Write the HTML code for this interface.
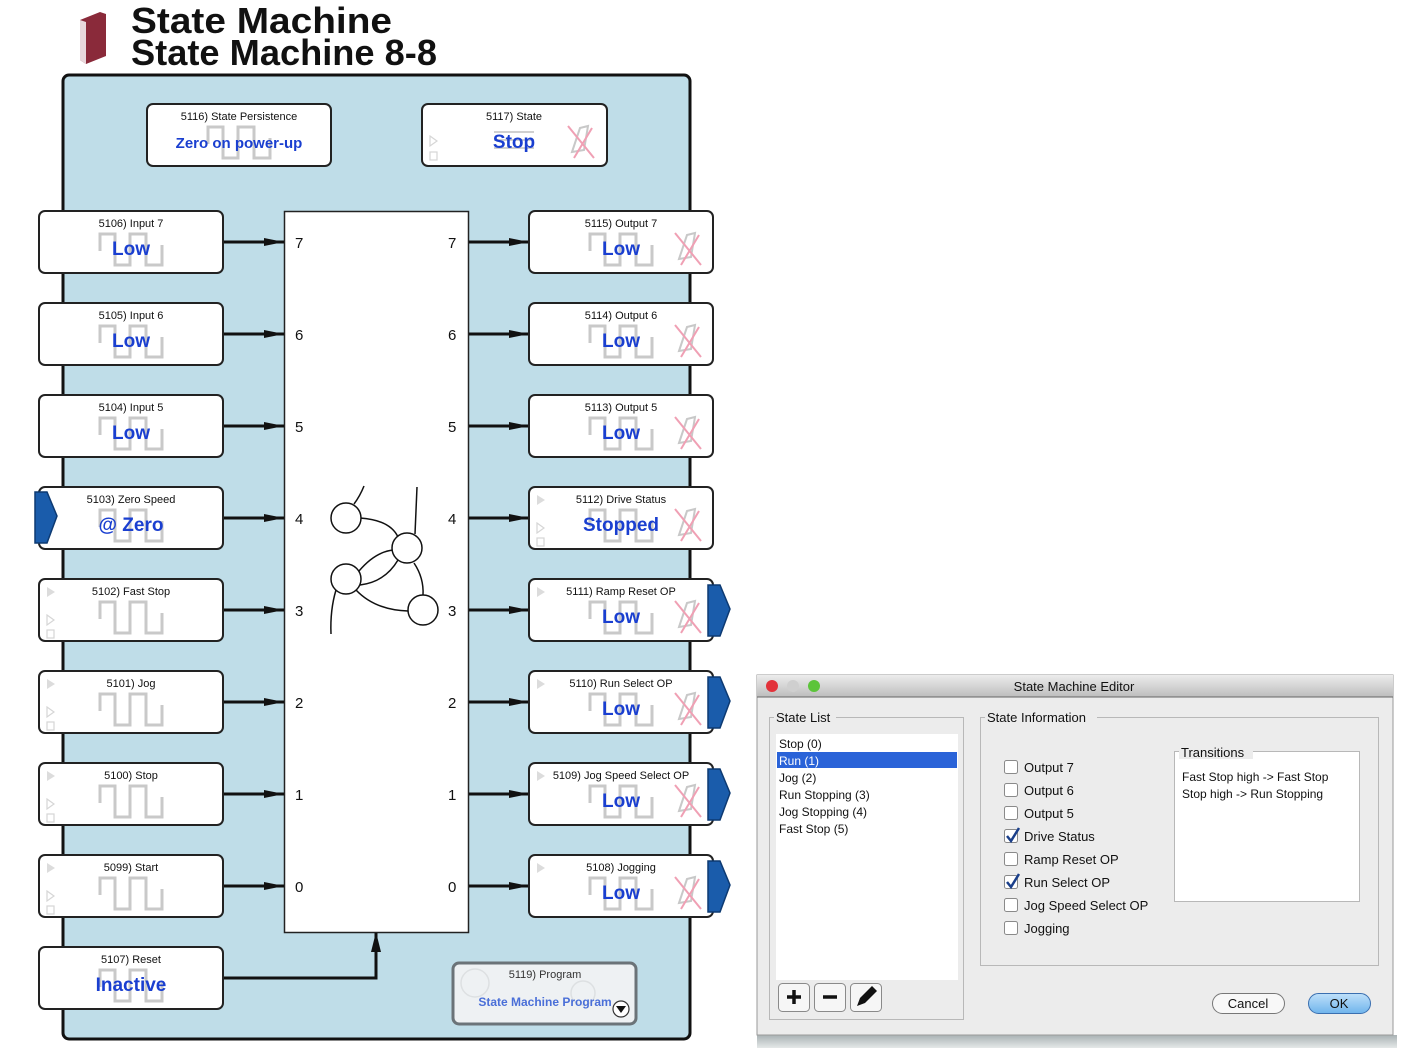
<!DOCTYPE html>
<html><head><meta charset="utf-8"><style>
html,body{margin:0;padding:0;background:#fff;}
svg{display:block;font-family:"Liberation Sans",sans-serif;}
</style></head><body>
<svg width="1413" height="1048" viewBox="0 0 1413 1048" xmlns="http://www.w3.org/2000/svg">
<defs>
<symbol id="wave" overflow="visible"><path d="M61,40 V23 H76 V54 H91 V23 H107 V54 H123 V34" fill="none" stroke="#c9c9c9" stroke-width="3"/></symbol>
<symbol id="xi" overflow="visible"><path d="M150,48 L158,24 L166,22 L162,46 Z" fill="none" stroke="#c8c8c8" stroke-width="2"/><path d="M146,22 L172,54 M170,24 L152,54" stroke="#f0a0b4" stroke-width="2"/></symbol>
<symbol id="tri" overflow="visible"><path d="M8,8 L16,13 L8,18 Z" fill="#dcdcdc"/><path d="M8,36 L15,41 L8,46 Z" fill="none" stroke="#d6d6d6" stroke-width="1.2"/><rect x="8" y="51" width="7" height="8" fill="none" stroke="#d6d6d6" stroke-width="1.2"/></symbol>
<symbol id="tab" overflow="visible"><path d="M0,0 H12 L22,24 L12,51 H0 Z" fill="#1a5cab" stroke="#0d3a72" stroke-width="1.5"/></symbol>
<marker id="ar" viewBox="0 0 20 10" refX="20" refY="5" markerWidth="20" markerHeight="10" markerUnits="userSpaceOnUse" orient="auto"><path d="M0,1 L20,5 L0,9 Z" fill="#111"/></marker>
</defs>

<!-- header -->
<g>
<path d="M80,20 L100,12 L106,14 L106,56 L86,64 L80,60 Z" fill="#8a2a3a"/>
<path d="M80,20 L86,22 L86,64 L80,60 Z" fill="#e8d8dc"/>
<text x="131" y="33" font-size="36" font-weight="bold" fill="#111" textLength="261" lengthAdjust="spacingAndGlyphs">State Machine</text>
<text x="131" y="65" font-size="36" font-weight="bold" fill="#111" textLength="306" lengthAdjust="spacingAndGlyphs">State Machine 8-8</text>
</g>

<!-- main panel -->
<rect x="63" y="75" width="627" height="964" rx="6" fill="#bfdde8" stroke="#111" stroke-width="3"/>

<!-- center block -->
<rect x="284.5" y="211.5" width="184" height="721" fill="#fff" stroke="#222" stroke-width="1.5"/>
<g font-size="15" fill="#111">
<text x="295" y="248">7</text><text x="448" y="248">7</text>
<text x="295" y="340">6</text><text x="448" y="340">6</text>
<text x="295" y="432">5</text><text x="448" y="432">5</text>
<text x="295" y="524">4</text><text x="448" y="524">4</text>
<text x="295" y="616">3</text><text x="448" y="616">3</text>
<text x="295" y="708">2</text><text x="448" y="708">2</text>
<text x="295" y="800">1</text><text x="448" y="800">1</text>
<text x="295" y="892">0</text><text x="448" y="892">0</text>
</g>
<!-- graph -->
<g fill="none" stroke="#111" stroke-width="1.5">
<path d="M354,504 Q360,496 364,486"/>
<path d="M415,534 L417,487"/>
<path d="M360,518 Q390,520 398,537"/>
<path d="M359,571 Q375,552 393,550"/>
<path d="M360,585 Q385,582 398,560"/>
<path d="M414,563 Q424,578 423,595"/>
<path d="M356,590 Q375,610 408,611"/>
<path d="M336,590 Q330,610 331,634"/>
<circle cx="346" cy="518" r="15" fill="#fff"/>
<circle cx="407" cy="548" r="15" fill="#fff"/>
<circle cx="346" cy="579" r="15" fill="#fff"/>
<circle cx="423" cy="610" r="15" fill="#fff"/>
</g>

<!-- arrows -->
<g stroke="#111" stroke-width="3" marker-end="url(#ar)">
<line x1="223" y1="242" x2="284" y2="242"/><line x1="469" y1="242" x2="529" y2="242"/>
<line x1="223" y1="334" x2="284" y2="334"/><line x1="469" y1="334" x2="529" y2="334"/>
<line x1="223" y1="426" x2="284" y2="426"/><line x1="469" y1="426" x2="529" y2="426"/>
<line x1="223" y1="518" x2="284" y2="518"/><line x1="469" y1="518" x2="529" y2="518"/>
<line x1="223" y1="610" x2="284" y2="610"/><line x1="469" y1="610" x2="529" y2="610"/>
<line x1="223" y1="702" x2="284" y2="702"/><line x1="469" y1="702" x2="529" y2="702"/>
<line x1="223" y1="794" x2="284" y2="794"/><line x1="469" y1="794" x2="529" y2="794"/>
<line x1="223" y1="886" x2="284" y2="886"/><line x1="469" y1="886" x2="529" y2="886"/>
</g>
<path d="M223,978 H376 V933" fill="none" stroke="#111" stroke-width="3"/>
<path d="M371,952 L376,932 L381,952 Z" fill="#111"/>

<!-- top blocks -->
<g transform="translate(147,104)">
<rect width="184" height="62" rx="6" fill="#fff" stroke="#222" stroke-width="2"/>
<text x="92" y="16" font-size="11" text-anchor="middle" fill="#111">5116) State Persistence</text>
<use href="#wave"/>
<text x="92" y="44" font-size="15" font-weight="bold" text-anchor="middle" fill="#1a3fd0">Zero on power-up</text>
</g>
<g transform="translate(422,104)">
<rect width="185" height="62" rx="6" fill="#fff" stroke="#222" stroke-width="2"/>
<path d="M8,32 L15,37 L8,42 Z" fill="none" stroke="#d6d6d6" stroke-width="1.2"/>
<rect x="8" y="48" width="7" height="8" fill="none" stroke="#d6d6d6" stroke-width="1.2"/>
<text x="92" y="16" font-size="11" text-anchor="middle" fill="#111">5117) State</text>
<path d="M72,28 H112 M72,36 H112 M72,44 H112" stroke="#d0d0d0" stroke-width="2"/>
<text x="92" y="44" font-size="19" font-weight="bold" text-anchor="middle" fill="#1a3fd0">Stop</text>
<use href="#xi"/>
</g>

<!-- input blocks -->
<g font-size="11" fill="#111">
<g transform="translate(39,211)"><rect width="184" height="62" rx="6" fill="#fff" stroke="#222" stroke-width="2"/><text x="92" y="16" text-anchor="middle">5106) Input 7</text><use href="#wave"/><text x="92" y="44" font-size="19" font-weight="bold" text-anchor="middle" fill="#1a3fd0">Low</text></g>
<g transform="translate(39,303)"><rect width="184" height="62" rx="6" fill="#fff" stroke="#222" stroke-width="2"/><text x="92" y="16" text-anchor="middle">5105) Input 6</text><use href="#wave"/><text x="92" y="44" font-size="19" font-weight="bold" text-anchor="middle" fill="#1a3fd0">Low</text></g>
<g transform="translate(39,395)"><rect width="184" height="62" rx="6" fill="#fff" stroke="#222" stroke-width="2"/><text x="92" y="16" text-anchor="middle">5104) Input 5</text><use href="#wave"/><text x="92" y="44" font-size="19" font-weight="bold" text-anchor="middle" fill="#1a3fd0">Low</text></g>
<g transform="translate(39,487)"><rect width="184" height="62" rx="6" fill="#fff" stroke="#222" stroke-width="2"/><text x="92" y="16" text-anchor="middle">5103) Zero Speed</text><use href="#wave"/><text x="92" y="44" font-size="19" font-weight="bold" text-anchor="middle" fill="#1a3fd0">@ Zero</text></g>
<g transform="translate(39,579)"><rect width="184" height="62" rx="6" fill="#fff" stroke="#222" stroke-width="2"/><use href="#tri"/><text x="92" y="16" text-anchor="middle">5102) Fast Stop</text><use href="#wave"/></g>
<g transform="translate(39,671)"><rect width="184" height="62" rx="6" fill="#fff" stroke="#222" stroke-width="2"/><use href="#tri"/><text x="92" y="16" text-anchor="middle">5101) Jog</text><use href="#wave"/></g>
<g transform="translate(39,763)"><rect width="184" height="62" rx="6" fill="#fff" stroke="#222" stroke-width="2"/><use href="#tri"/><text x="92" y="16" text-anchor="middle">5100) Stop</text><use href="#wave"/></g>
<g transform="translate(39,855)"><rect width="184" height="62" rx="6" fill="#fff" stroke="#222" stroke-width="2"/><use href="#tri"/><text x="92" y="16" text-anchor="middle">5099) Start</text><use href="#wave"/></g>
<g transform="translate(39,947)"><rect width="184" height="62" rx="6" fill="#fff" stroke="#222" stroke-width="2"/><text x="92" y="16" text-anchor="middle">5107) Reset</text><use href="#wave"/><text x="92" y="44" font-size="19" font-weight="bold" text-anchor="middle" fill="#1a3fd0">Inactive</text></g>
</g>
<use href="#tab" x="35" y="492"/>

<!-- output blocks -->
<g font-size="11" fill="#111">
<g transform="translate(529,211)"><rect width="184" height="62" rx="6" fill="#fff" stroke="#222" stroke-width="2"/><text x="92" y="16" text-anchor="middle">5115) Output 7</text><use href="#wave"/><text x="92" y="44" font-size="19" font-weight="bold" text-anchor="middle" fill="#1a3fd0">Low</text><use href="#xi"/></g>
<g transform="translate(529,303)"><rect width="184" height="62" rx="6" fill="#fff" stroke="#222" stroke-width="2"/><text x="92" y="16" text-anchor="middle">5114) Output 6</text><use href="#wave"/><text x="92" y="44" font-size="19" font-weight="bold" text-anchor="middle" fill="#1a3fd0">Low</text><use href="#xi"/></g>
<g transform="translate(529,395)"><rect width="184" height="62" rx="6" fill="#fff" stroke="#222" stroke-width="2"/><text x="92" y="16" text-anchor="middle">5113) Output 5</text><use href="#wave"/><text x="92" y="44" font-size="19" font-weight="bold" text-anchor="middle" fill="#1a3fd0">Low</text><use href="#xi"/></g>
<g transform="translate(529,487)"><rect width="184" height="62" rx="6" fill="#fff" stroke="#222" stroke-width="2"/><use href="#tri"/><text x="92" y="16" text-anchor="middle">5112) Drive Status</text><use href="#wave"/><text x="92" y="44" font-size="19" font-weight="bold" text-anchor="middle" fill="#1a3fd0">Stopped</text><use href="#xi"/></g>
<g transform="translate(529,579)"><rect width="184" height="62" rx="6" fill="#fff" stroke="#222" stroke-width="2"/><path d="M8,8 L16,13 L8,18 Z" fill="#dcdcdc"/><text x="92" y="16" text-anchor="middle">5111) Ramp Reset OP</text><use href="#wave"/><text x="92" y="44" font-size="19" font-weight="bold" text-anchor="middle" fill="#1a3fd0">Low</text><use href="#xi"/></g>
<g transform="translate(529,671)"><rect width="184" height="62" rx="6" fill="#fff" stroke="#222" stroke-width="2"/><path d="M8,8 L16,13 L8,18 Z" fill="#dcdcdc"/><text x="92" y="16" text-anchor="middle">5110) Run Select OP</text><use href="#wave"/><text x="92" y="44" font-size="19" font-weight="bold" text-anchor="middle" fill="#1a3fd0">Low</text><use href="#xi"/></g>
<g transform="translate(529,763)"><rect width="184" height="62" rx="6" fill="#fff" stroke="#222" stroke-width="2"/><path d="M8,8 L16,13 L8,18 Z" fill="#dcdcdc"/><text x="92" y="16" text-anchor="middle">5109) Jog Speed Select OP</text><use href="#wave"/><text x="92" y="44" font-size="19" font-weight="bold" text-anchor="middle" fill="#1a3fd0">Low</text><use href="#xi"/></g>
<g transform="translate(529,855)"><rect width="184" height="62" rx="6" fill="#fff" stroke="#222" stroke-width="2"/><path d="M8,8 L16,13 L8,18 Z" fill="#dcdcdc"/><text x="92" y="16" text-anchor="middle">5108) Jogging</text><use href="#wave"/><text x="92" y="44" font-size="19" font-weight="bold" text-anchor="middle" fill="#1a3fd0">Low</text><use href="#xi"/></g>
</g>
<use href="#tab" x="708" y="585"/>
<use href="#tab" x="708" y="677"/>
<use href="#tab" x="708" y="769"/>
<use href="#tab" x="708" y="861"/>

<!-- program block -->
<g transform="translate(453,963)">
<rect width="183" height="61" rx="6" fill="#eef1f3" stroke="#6b7378" stroke-width="3"/>
<circle cx="22" cy="20" r="14" fill="none" stroke="#dde0e2" stroke-width="1.5"/>
<circle cx="130" cy="30" r="12" fill="none" stroke="#dde0e2" stroke-width="1.5"/>
<text x="92" y="15" font-size="11" text-anchor="middle" fill="#333">5119) Program</text>
<text x="92" y="43" font-size="12" font-weight="bold" text-anchor="middle" fill="#4a6fd8">State Machine Program</text>
<circle cx="168" cy="46" r="8" fill="#fff" stroke="#333" stroke-width="1.2"/>
<path d="M163,43 H173 L168,50 Z" fill="#111"/>
</g>

<!-- editor window -->
<defs><linearGradient id="sh" x1="0" y1="0" x2="0" y2="1"><stop offset="0" stop-color="#a9b2b4"/><stop offset="1" stop-color="#e4e8e8"/></linearGradient></defs>
<rect x="757" y="1035" width="640" height="13" fill="url(#sh)"/>
<rect x="757" y="675" width="636" height="360" fill="#ececec" stroke="#9a9a9a"/>
<defs><linearGradient id="tb" x1="0" y1="0" x2="0" y2="1"><stop offset="0" stop-color="#ececec"/><stop offset="1" stop-color="#bdbdbd"/></linearGradient></defs>
<rect x="757" y="675" width="636" height="22" fill="url(#tb)"/>
<line x1="757" y1="697" x2="1393" y2="697" stroke="#666"/>
<circle cx="772" cy="686" r="6" fill="#e2323a"/>
<circle cx="793" cy="686" r="6" fill="#cfcfcf"/>
<circle cx="814" cy="686" r="6" fill="#5cc43a"/>
<text x="1074" y="691" font-size="13" text-anchor="middle" fill="#111">State Machine Editor</text>

<rect x="769.5" y="717.5" width="194" height="302" fill="#ececec" stroke="#b8b8b8"/>
<rect x="774" y="711" width="62" height="14" fill="#ececec"/>
<text x="776" y="722" font-size="13" fill="#111">State List</text>
<rect x="776" y="734" width="182" height="246" fill="#fff"/>
<rect x="777" y="752" width="180" height="16" fill="#2a63d8"/>
<g font-size="12" fill="#111">
<text x="779" y="748">Stop (0)</text>
<text x="779" y="765" fill="#fff">Run (1)</text>
<text x="779" y="782">Jog (2)</text>
<text x="779" y="799">Run Stopping (3)</text>
<text x="779" y="816">Jog Stopping (4)</text>
<text x="779" y="833">Fast Stop (5)</text>
</g>
<g fill="#f6f6f6" stroke="#8a8a8a">
<rect x="778.5" y="983.5" width="31" height="28" rx="4"/>
<rect x="814.5" y="983.5" width="31" height="28" rx="4"/>
<rect x="850.5" y="983.5" width="31" height="28" rx="4"/>
<rect x="1174.5" y="919.5" width="31" height="28" rx="4"/>
<rect x="1210.5" y="919.5" width="31" height="28" rx="4" stroke="#c8c8c8"/>
</g>
<path d="M787,997 H801 M794,990 V1004" stroke="#111" stroke-width="3.5"/>
<path d="M823,997 H837" stroke="#111" stroke-width="3.5"/>
<path d="M857,1006 L860,998 L872,986 L877,991 L865,1003 Z" fill="#111"/>
<path d="M1183,933 H1197 M1190,926 V940" stroke="#111" stroke-width="3.5"/>
<path d="M1219,933 H1233" stroke="#bbb" stroke-width="3"/>

<rect x="980.5" y="717.5" width="398" height="248" fill="#ececec" stroke="#b8b8b8"/>
<rect x="985" y="711" width="112" height="14" fill="#ececec"/>
<text x="987" y="722" font-size="13" fill="#111">State Information</text>
<g fill="#fff" stroke="#8a8a8a">
<rect x="1004.5" y="760.5" width="13" height="13" rx="2"/>
<rect x="1004.5" y="783.5" width="13" height="13" rx="2"/>
<rect x="1004.5" y="806.5" width="13" height="13" rx="2"/>
<rect x="1004.5" y="829.5" width="13" height="13" rx="2"/>
<rect x="1004.5" y="852.5" width="13" height="13" rx="2"/>
<rect x="1004.5" y="875.5" width="13" height="13" rx="2"/>
<rect x="1004.5" y="898.5" width="13" height="13" rx="2"/>
<rect x="1004.5" y="921.5" width="13" height="13" rx="2"/>
</g>
<path d="M1007,836 L1011,841 L1019,828" fill="none" stroke="#1a3f8a" stroke-width="2.5"/>
<path d="M1007,882 L1011,887 L1019,874" fill="none" stroke="#1a3f8a" stroke-width="2.5"/>
<g font-size="13" fill="#111">
<text x="1024" y="772">Output 7</text>
<text x="1024" y="795">Output 6</text>
<text x="1024" y="818">Output 5</text>
<text x="1024" y="841">Drive Status</text>
<text x="1024" y="864">Ramp Reset OP</text>
<text x="1024" y="887">Run Select OP</text>
<text x="1024" y="910">Jog Speed Select OP</text>
<text x="1024" y="933">Jogging</text>
</g>
<rect x="1174.5" y="751.5" width="185" height="150" fill="#fff" stroke="#b8b8b8"/>
<rect x="1179" y="745" width="74" height="14" fill="#ececec"/>
<text x="1181" y="757" font-size="13" fill="#111">Transitions</text>
<text x="1182" y="781" font-size="12" fill="#111">Fast Stop high -&gt; Fast Stop</text>
<text x="1182" y="798" font-size="12" fill="#111">Stop high -&gt; Run Stopping</text>

<rect x="1212.5" y="993.5" width="72" height="20" rx="10" fill="#f8f8f8" stroke="#777"/>
<text x="1248" y="1008" font-size="13" text-anchor="middle" fill="#111">Cancel</text>
<defs><linearGradient id="ok" x1="0" y1="0" x2="0" y2="1"><stop offset="0" stop-color="#bfe0fa"/><stop offset="1" stop-color="#6fb4ec"/></linearGradient></defs>
<rect x="1308.5" y="993.5" width="62" height="20" rx="10" fill="url(#ok)" stroke="#3a6fb0"/>
<text x="1339" y="1008" font-size="13" text-anchor="middle" fill="#111">OK</text>
</svg>
</body></html>
